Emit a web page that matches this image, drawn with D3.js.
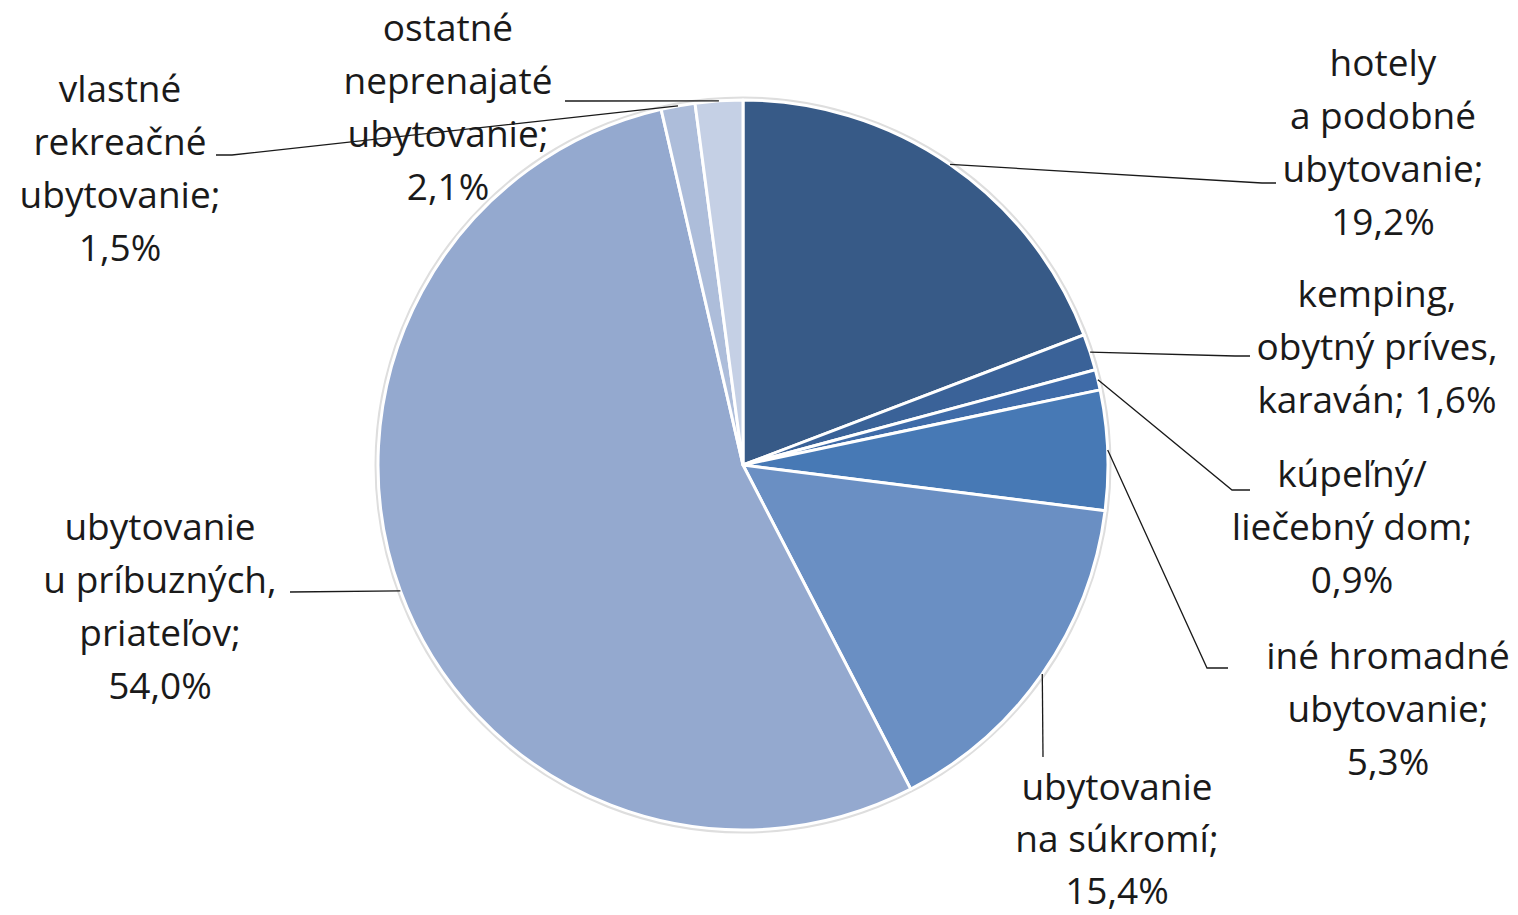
<!DOCTYPE html>
<html>
<head>
<meta charset="utf-8">
<script src="https://cdn.jsdelivr.net/npm/d3@7"></script>
<style>
  body { margin: 0; background: #fff; }
  svg text { font-family: "Open Sans", "Noto Sans", sans-serif; fill: #1a1a1a; }
</style>
</head>
<body>
<svg id="chart" width="1518" height="915"></svg>
<script>
// categories (lines of each label) and values in %
var labelLines = [
	["hotely", "a podobné", "ubytovanie;"],
	["kemping,", "obytný príves,", "karaván;"],
	["kúpeľný/", "liečebný dom;"],
	["iné hromadné", "ubytovanie;"],
	["ubytovanie", "na súkromí;"],
	["ubytovanie", "u príbuzných,", "priateľov;"],
	["vlastné", "rekreačné", "ubytovanie;"],
	["ostatné", "neprenajaté", "ubytovanie;"]
];
var values = [19.2, 1.6, 0.9, 5.3, 15.4, 54.0, 1.5, 2.1];
var colors = ["#375a87", "#3a6298", "#3f6ba8", "#4779b5", "#6a8fc3", "#94a9cf", "#adbdda", "#c5d0e5"];
// value appended to the last line for this one, on its own line for the rest
var valueInline = [false, true, false, false, false, false, false, false];

// label layout: text centre x, first baseline y, leader line end points
var labelLayout = [
	{x: 1383, y: 75,  pts: [[1262, 183], [1276, 183]]},
	{x: 1377, y: 306, pts: [[1235, 356], [1250, 356]]},
	{x: 1352, y: 486, pts: [[1232, 490], [1250, 490]]},
	{x: 1388, y: 668, pts: [[1207, 668], [1228, 668]]},
	{x: 1117, y: 799, pts: [[1043, 757]]},
	{x: 160,  y: 539, pts: [[290, 592]]},
	{x: 120,  y: 101, pts: [[232, 155], [216, 155]]},
	{x: 448,  y: 40,  pts: [[580, 101], [565, 101]]}
];
var lineGap = [53, 53, 53, 53, 52, 53, 53, 53];

var cx = 743, cy = 465, radius = 365;

var svg = d3.select("#chart");
var fmt = function(v) { return d3.format(".1f")(v).replace(".", ",") + "%"; };

var pie = d3.pie().sort(null).value(function(d) { return d; });
var arcs = pie(values);
var arc = d3.arc().innerRadius(0).outerRadius(radius);

var g = svg.append("g").attr("transform", "translate(" + cx + "," + cy + ")");

// soft shadow ring
g.append("circle")
	.attr("r", radius + 2)
	.style("fill", "none")
	.style("stroke", "#dedede")
	.style("stroke-width", 3);

g.selectAll("path.slice")
	.data(arcs)
	.enter().append("path")
	.attr("class", "slice")
	.attr("d", arc)
	.style("fill", function(d, i) { return colors[i]; })
	.style("stroke", "#fff")
	.style("stroke-width", 3)
	.style("stroke-linejoin", "round");

// leader lines
function midAngle(d) { return d.startAngle + (d.endAngle - d.startAngle) / 2; }

svg.selectAll("polyline.leader")
	.data(arcs)
	.enter().append("polyline")
	.attr("class", "leader")
	.attr("points", function(d, i) {
		var a = midAngle(d);
		var start = [cx + radius * Math.sin(a), cy - radius * Math.cos(a)];
		return [start].concat(labelLayout[i].pts).join(" ");
	})
	.style("fill", "none")
	.style("stroke", "#1a1a1a")
	.style("stroke-width", 1.3);

// labels
var labels = svg.selectAll("text.label")
	.data(arcs)
	.enter().append("text")
	.attr("class", "label")
	.attr("text-anchor", "middle")
	.attr("font-size", "37px");

labels.each(function(d, i) {
	var lines = labelLines[i].slice();
	if (valueInline[i]) lines[lines.length - 1] += " " + fmt(values[i]);
	else lines.push(fmt(values[i]));
	var t = d3.select(this);
	lines.forEach(function(l, j) {
		t.append("tspan")
			.attr("x", labelLayout[i].x)
			.attr("y", labelLayout[i].y + 1 + j * lineGap[i])
			.text(l);
	});
});
</script>
</body>
</html>
